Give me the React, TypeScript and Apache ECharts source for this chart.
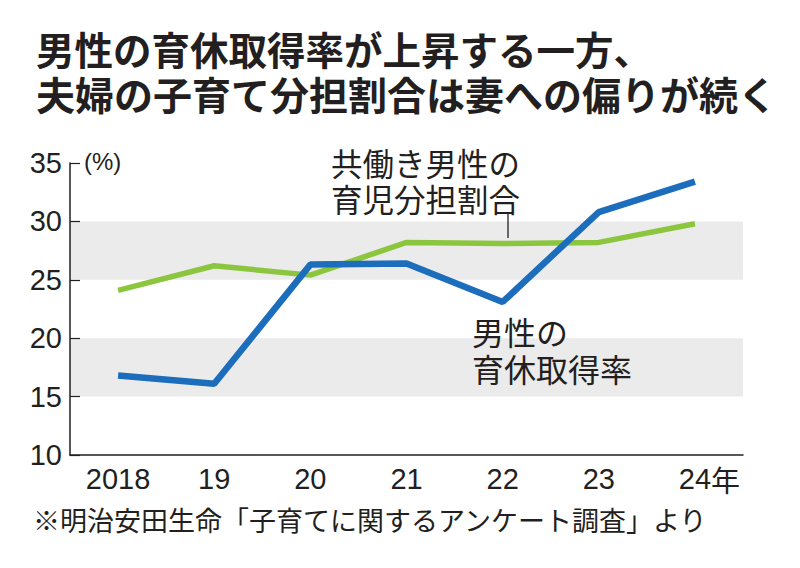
import { useEffect, useRef } from "react";
import * as echarts from "echarts";

const years = ["2018", "19", "20", "21", "22", "23", "24"];
// 男性の育休取得率
const leaveRate = [16.8, 16.1, 26.3, 26.4, 23.1, 30.8, 33.4];
// 共働き男性の育児分担割合
const shareRate = [24.1, 26.2, 25.4, 28.2, 28.1, 28.2, 29.8];
const yMin = 10;
const yMax = 35;
const yStep = 5;

const numFont = "'Liberation Sans', sans-serif";
const jpFont = "'Noto Sans CJK JP', sans-serif";
const ink = "#231f20";

export default function App() {
  const ref = useRef<HTMLDivElement>(null);

  useEffect(() => {
    if (!ref.current) return;
    const chart = echarts.init(ref.current, null, { renderer: "svg" });
    chart.setOption({
      animation: false,
      backgroundColor: "#ffffff",
      title: {
        text: "{a|男性の育休取得率が上昇する一方、}\n{b|夫婦の子育て分担割合は妻への偏りが続く}",
        left: 31,
        top: 20,
        textStyle: {
          fontFamily: jpFont,
          fontWeight: "bold",
          fontSize: 38.5,
          lineHeight: 45,
          color: ink,
          rich: {
            a: { fontFamily: jpFont, fontWeight: "bold", fontSize: 38.5, lineHeight: 45, color: ink },
            b: { fontFamily: jpFont, fontWeight: "bold", fontSize: 39, lineHeight: 45, color: ink },
          },
        },
      },
      grid: { left: 70, right: 57, top: 163, bottom: 113 },
      xAxis: {
        type: "category",
        data: years,
        boundaryGap: true,
        axisLine: { lineStyle: { color: ink, width: 1.5 } },
        axisTick: {
          alignWithLabel: true,
          interval: 0,
          inside: true,
          length: 12,
          lineStyle: { color: ink, width: 1.2 },
        },
        axisLabel: {
          interval: 0,
          margin: 9,
          fontFamily: numFont,
          fontSize: 29,
          color: ink,
          formatter: (v: string, i: number) =>
            i === years.length - 1 ? `{pad|}{n|${v}}{u|年}` : `{n|${v}}`,
          rich: {
            n: { fontFamily: numFont, fontSize: 29, color: ink },
            u: { fontFamily: jpFont, fontSize: 29, color: ink },
            pad: { width: 29 },
          },
        },
      },
      yAxis: {
        type: "value",
        min: yMin,
        max: yMax,
        interval: yStep,
        axisLine: { show: true, lineStyle: { color: ink, width: 1.5 } },
        axisTick: { show: true, inside: true, length: 10, lineStyle: { color: ink, width: 1.2 } },
        axisLabel: { margin: 8, fontFamily: numFont, fontSize: 29, color: ink },
        splitLine: { show: false },
        splitArea: { show: true, areaStyle: { color: ["rgba(0,0,0,0)", "#ebebeb"] } },
      },
      series: [
        {
          name: "共働き男性の育児分担割合",
          type: "line",
          data: shareRate,
          showSymbol: false,
          lineStyle: { color: "#8cc63f", width: 5.5 },
          z: 2,
        },
        {
          name: "男性の育休取得率",
          type: "line",
          data: leaveRate,
          showSymbol: false,
          lineStyle: { color: "#1c6dbb", width: 6.5 },
          z: 3,
        },
      ],
      graphic: [
        {
          type: "text",
          left: 84,
          top: 149,
          z: 10,
          style: { text: "(%)", fontFamily: numFont, fontSize: 24, fill: ink },
        },
        {
          type: "text",
          left: 331,
          top: 144,
          z: 10,
          style: {
            text: "共働き男性の\n育児分担割合",
            fontFamily: jpFont,
            fontSize: 31.5,
            lineHeight: 36,
            fill: ink,
          },
        },
        {
          type: "line",
          z: 10,
          shape: { x1: 508, y1: 214, x2: 508, y2: 238 },
          style: { stroke: ink, lineWidth: 1.3 },
        },
        {
          type: "text",
          left: 472,
          top: 312,
          z: 10,
          style: {
            text: "男性の\n育休取得率",
            fontFamily: jpFont,
            fontSize: 32,
            lineHeight: 37,
            fill: ink,
          },
        },
        {
          type: "text",
          left: 33,
          top: 506,
          z: 10,
          style: {
            text: "※明治安田生命「子育てに関するアンケート調査」より",
            fontFamily: jpFont,
            fontSize: 27,
            fill: ink,
          },
        },
      ],
    });
    return () => {
      chart.dispose();
    };
  }, []);

  return (
    <div
      ref={ref}
      style={{ position: "fixed", left: 0, top: 0, width: 800, height: 568 }}
    />
  );
}
